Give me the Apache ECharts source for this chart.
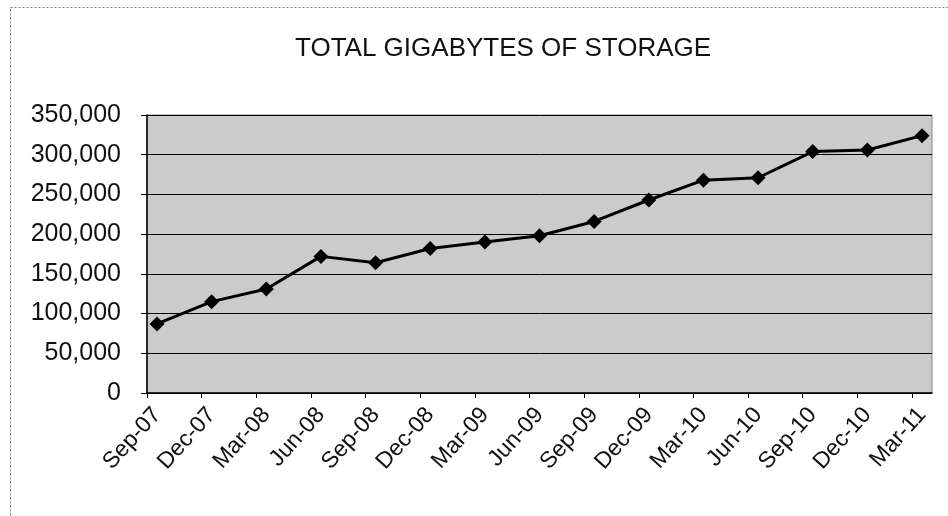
<!DOCTYPE html>
<html>
<head>
<meta charset="utf-8">
<script src="https://cdn.jsdelivr.net/npm/echarts@6/dist/echarts.min.js"></script>
<style>
html,body{margin:0;padding:0;background:#fff;}
#c{width:948px;height:516px;}
</style>
</head>
<body>
<div id="c"></div>
<script>
const titleText = 'TOTAL GIGABYTES OF STORAGE';
const categories = ['Sep-07','Dec-07','Mar-08','Jun-08','Sep-08','Dec-08','Mar-09','Jun-09','Sep-09','Dec-09','Mar-10','Jun-10','Sep-10','Dec-10','Mar-11'];
const storage = [87000,115000,131000,172000,164000,182000,190000,198000,216000,243000,268000,271000,304000,306000,324000];
const yTicks = [0,50000,100000,150000,200000,250000,300000,350000];

const pad = 0.183; // plot-area margin beyond first/last point, in category units
const tickPos = categories.map((c, i) => i - pad);
const labelPos = categories.map((c, i) => i);

const chart = echarts.init(document.getElementById('c'));
chart.setOption({
  animation: false,
  backgroundColor: '#ffffff',
  title: {
    text: titleText,
    left: 290, top: 31,
    textStyle: {fontFamily: 'Liberation Sans, Arial, sans-serif', fontSize: 26, fontWeight: 'normal', color: '#111'}
  },
  graphic: [{
    type: 'rect', left: 8, top: 5,
    shape: {width: 960, height: 530},
    style: {fill: 'none', stroke: '#777', lineWidth: 1, lineDash: [2, 2]}
  }],
  grid: {
    left: 147, right: 16, top: 115, bottom: 123,
    show: true, backgroundColor: '#cbcbcb', borderColor: '#888', borderWidth: 1
  },
  xAxis: {
    type: 'value',
    min: -pad, max: categories.length - 1 + pad,
    axisLine: {show: true, onZero: false, lineStyle: {color: '#000', width: 1.5}},
    axisTick: {show: true, customValues: tickPos, length: 5, lineStyle: {color: '#000'}},
    axisLabel: {
      customValues: labelPos,
      formatter: v => categories[Math.round(v)],
      rotate: 48, margin: 18,
      fontFamily: 'Liberation Sans, Arial, sans-serif', fontSize: 23, color: '#111'
    },
    splitLine: {show: false}
  },
  yAxis: {
    type: 'value',
    min: yTicks[0], max: yTicks[yTicks.length - 1], interval: yTicks[1] - yTicks[0],
    axisLine: {show: true, onZero: false, lineStyle: {color: '#000', width: 1.5}},
    axisTick: {show: true, length: 6, lineStyle: {color: '#000'}},
    axisLabel: {
      margin: 26,
      formatter: v => v.toLocaleString('en-US'),
      fontFamily: 'Liberation Sans, Arial, sans-serif', fontSize: 25, color: '#111'
    },
    splitLine: {show: true, lineStyle: {color: '#000', width: 1}}
  },
  series: [{
    type: 'line',
    data: storage.map((v, i) => [i, v]),
    symbol: 'diamond', symbolSize: 15,
    lineStyle: {color: '#000', width: 3},
    itemStyle: {color: '#000'}
  }]
});
</script>
</body>
</html>
